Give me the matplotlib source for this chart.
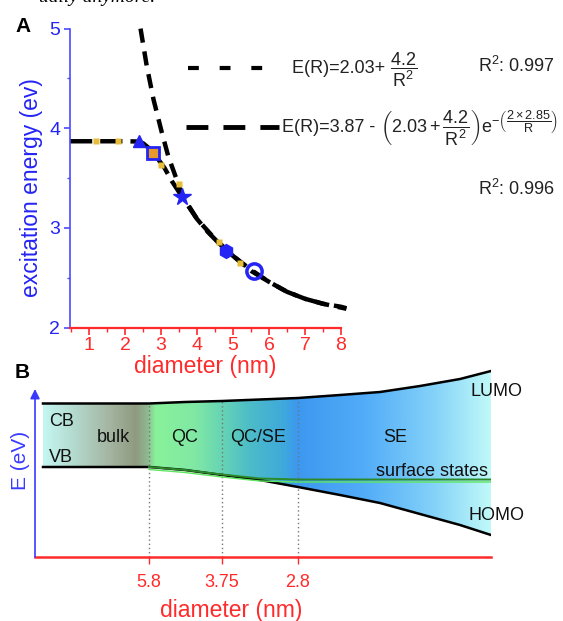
import numpy as np
import matplotlib.pyplot as plt
from matplotlib.lines import Line2D
from matplotlib.colors import LinearSegmentedColormap
from matplotlib.ticker import MultipleLocator

plt.rcParams['font.family'] = ['Liberation Sans', 'DejaVu Sans']
plt.rcParams['mathtext.fontset'] = 'custom'
plt.rcParams['mathtext.rm'] = 'Liberation Sans'
plt.rcParams['mathtext.it'] = 'Liberation Sans:italic'
plt.rcParams['mathtext.bf'] = 'Liberation Sans:bold'
plt.rcParams['mathtext.default'] = 'regular'

W, H = 563, 621

# ---- panel A: excitation energy vs diameter ----
fit1_d = [2.43, 2.6, 2.79, 3.02, 3.2, 3.43, 3.6, 4.0, 4.5, 5.0, 5.5, 6.0, 6.5, 7.0, 7.5, 8.15]
fit1_e = [5.0, 4.63, 4.29, 3.96, 3.72, 3.49, 3.32, 3.09, 2.89, 2.72, 2.58, 2.46, 2.36, 2.29, 2.24, 2.19]
fit2_d = [0.47, 1.0, 1.5, 2.0, 2.3, 2.5, 2.7, 2.9, 3.1, 3.3, 3.5, 3.7, 4.0, 4.3, 4.6,
          5.0, 5.5, 6.0, 6.5, 7.0, 7.5, 8.0, 8.15]
fit2_e = [3.87, 3.87, 3.87, 3.87, 3.868, 3.85, 3.79, 3.70, 3.60, 3.47, 3.36, 3.25, 3.09, 2.96, 2.85,
          2.72, 2.57, 2.46, 2.36, 2.29, 2.24, 2.21, 2.195]
dots_d = [1.19, 1.79, 3.0, 3.5, 4.61, 5.19]
dots_e = [3.87, 3.87, 3.63, 3.44, 2.855, 2.65]
ref_d = [2.4, 2.79, 3.58, 4.8, 5.58]
ref_e = [3.87, 3.755, 3.31, 2.765, 2.57]
r2_values = ['0.997', '0.996']

# ---- panel B: schematic band diagram ----
band_x = [8, 60, 114, 150, 187, 225, 263, 305, 345, 385, 425, 456]
lumo = [153.5, 153.5, 153.5, 155, 156, 157.5, 159, 162, 165, 171, 178, 186]
homo = [90, 90, 90, 87, 82, 77, 70, 62, 54, 43, 32, 22]
surf_x = [114, 150, 187, 225, 263, 456]
surf_y = [90, 87, 82.5, 78.5, 77.5, 77.5]
bound_x = [114, 187, 263]
bound_labels = ['5.8', '3.75', '2.8']

blue = '#2424f4'
axblue = '#4a4aff'
red = '#ff2a2a'


def px(x, y):
    return x / W, 1 - y / H


fig = plt.figure(figsize=(W / 100, H / 100), dpi=100)
renderer = fig.canvas.get_renderer()


def text_row(x, y, pieces, **kw):
    # put text pieces one after another on a common baseline
    for s in pieces:
        t = fig.text(*px(x, y), s, ha='left', va='baseline', **kw)
        x = t.get_window_extent(renderer).x1


# ================= panel A =================
axA = fig.add_axes([70 / W, 1 - 327.7 / H, 271 / W, 299.1 / H])
axA.plot(fit2_d, fit2_e, color='black', lw=3.2, dashes=(5, 1.8), clip_on=False, zorder=2)
axA.plot(fit1_d, fit1_e, color='black', lw=3.2, dashes=(3.2, 2.0), clip_on=False, zorder=2)
axA.plot(dots_d, dots_e, 's', color='#e6bd3a', ms=5, mec='none', zorder=3)

ref_styles = [
    dict(marker='^', ms=9, color=blue),
    dict(marker='s', ms=9, mfc='#e79a2a', mec=blue, mew=2),
    dict(marker='*', ms=13, color=blue),
    dict(marker='h', ms=10, color=blue),
    dict(marker='o', ms=11, mfc='none', mec=blue, mew=2.5),
]
for d, e, st in zip(ref_d, ref_e, ref_styles):
    axA.plot([d], [e], ls='none', zorder=4, **st)

axA.set_xlim(0.47, 8.0)
axA.set_ylim(2, 5)
axA.set_xticks(range(1, 9))
axA.set_yticks([2, 3, 4, 5])
axA.xaxis.set_minor_locator(MultipleLocator(0.5))
axA.yaxis.set_minor_locator(MultipleLocator(0.5))
for s in ['top', 'right']:
    axA.spines[s].set_visible(False)
axA.spines['left'].set_color(axblue)
axA.spines['left'].set_linewidth(1.2)
axA.spines['bottom'].set_color(red)
axA.spines['bottom'].set_linewidth(1.6)
axA.tick_params(axis='x', which='major', colors=red, length=5, width=1.2, pad=1.5, labelsize=14)
axA.tick_params(axis='x', which='minor', colors=red, length=3, width=1)
axA.tick_params(axis='y', which='major', colors=axblue, length=4, width=1.2, pad=3, labelsize=14)
axA.tick_params(axis='y', which='minor', colors=axblue, length=2.5, width=1)
for t in axA.get_yticklabels():
    t.set_color(blue)
axA.set_xlabel('diameter (nm)', color=red, fontsize=16.5)
axA.xaxis.set_label_coords(0.5, -0.092)
axA.set_ylabel('excitation energy (ev)', color=blue, fontsize=16.5)
axA.yaxis.set_label_coords(-0.1, 0.467)

# legend samples and fit equations
fig.add_artist(Line2D([px(188, 0)[0], px(265, 0)[0]], [px(0, 68)[1]] * 2,
                      color='black', lw=3, dashes=(2.6, 5.0)))
fig.add_artist(Line2D([px(186, 0)[0], px(279, 0)[0]], [px(0, 127)[1]] * 2,
                      color='black', lw=3.5, dashes=(4.5, 3.1)))
eqkw = dict(fontsize=13, color='#222222')
text_row(292, 73, ['E(R)=2.03+ ', r'$\dfrac{4.2}{R^2}$'], **eqkw)
text_row(282, 132, ['E(R)=3.87 - ',
                    r'$\left(2.03 + \dfrac{4.2}{R^2}\right)e^{-\left(\dfrac{2\times2.85}{R}\right)}$'],
         **eqkw)
fig.text(*px(478, 72), r'R$^2$: ' + r2_values[0], ha='left', va='baseline', **eqkw)
fig.text(*px(478, 195), r'R$^2$: ' + r2_values[1], ha='left', va='baseline', **eqkw)

fig.text(*px(15, 32), 'A', fontsize=15, fontweight='bold', ha='left', va='baseline')
fig.text(*px(15, 378), 'B', fontsize=15, fontweight='bold', ha='left', va='baseline')
fig.text(*px(155, 2), 'ually anymore.', fontsize=14, family='Liberation Serif',
         style='italic', ha='right', va='baseline')

# ================= panel B =================
axB = fig.add_axes([35 / W, 1 - 557 / H, 456 / W, 197 / H])
axB.patch.set_visible(False)
stops = [(8, '#c4f6f0'), (40, '#b2d8cc'), (75, '#a4b4a0'), (100, '#8f9a80'),
         (112, '#8fb890'), (120, '#88f29a'), (160, '#80e8a4'), (187, '#66d4b4'),
         (215, '#4cbcc8'), (250, '#3fa8dc'), (262, '#3c98f0'), (330, '#52acf8'),
         (400, '#84d2f8'), (456, '#bff9f8')]
cmap = LinearSegmentedColormap.from_list(
    'band', [((p - 8) / 448, c) for p, c in stops])
grad = np.linspace(0, 1, 900)[None, :]
im = axB.imshow(grad, extent=(8, 456, 0, 197), aspect='auto', cmap=cmap,
                vmin=0, vmax=1, zorder=1, interpolation='bilinear')
poly = axB.fill_between(band_x, homo, lumo, facecolor='none', edgecolor='none')
im.set_clip_path(poly.get_paths()[0], transform=axB.transData)

for bx in bound_x:
    axB.plot([bx, bx], [0, np.interp(bx, band_x, lumo)], color='#777777',
             lw=1, ls=(0, (1, 2)), zorder=2)
axB.plot(band_x, lumo, color='black', lw=1.8, zorder=3)
axB.plot(band_x, homo, color='black', lw=1.8, zorder=3)
axB.plot(surf_x, surf_y, color='#2a8a2a', lw=1.4, zorder=4)
axB.plot(surf_x, [v - 2.5 for v in surf_y], color='#5ee65e', lw=1.0, zorder=4)

axB.annotate('', xy=(0, 168), xytext=(0, 0), annotation_clip=False,
             arrowprops=dict(arrowstyle='-|>', color='#3a3aff', lw=1.2,
                             mutation_scale=14, shrinkA=0, shrinkB=0))

txt = dict(fontsize=13, color='#111111', va='center')
axB.text(14, 135, 'CB', **txt)
axB.text(14, 99, 'VB', **txt)
for name, cx in zip(['bulk', 'QC', 'QC/SE', 'SE'], [78, 150, 223, 360]):
    axB.text(cx, 120, name, ha='center', **txt)
axB.text(453, 85, 'surface states', ha='right', **txt)
axB.text(435, 165, 'LUMO', ha='left', **txt)
axB.text(433, 41, 'HOMO', ha='left', **txt)

axB.set_xlim(0, 456)
axB.set_ylim(0, 197)
for s in ['top', 'right', 'left']:
    axB.spines[s].set_visible(False)
axB.spines['bottom'].set_color(red)
axB.spines['bottom'].set_linewidth(1.8)
axB.set_yticks([])
axB.set_xticks(bound_x)
axB.set_xticklabels(bound_labels)
axB.tick_params(axis='x', colors=red, length=5, width=1, pad=7, labelsize=13)
axB.set_xlabel('diameter (nm)', color=red, fontsize=16.5)
axB.xaxis.set_label_coords(0.43, -0.215)
axB.set_ylabel('E (eV)', color='#3a3aff', fontsize=15)
axB.yaxis.set_label_coords(-0.01, 0.49)

fig.savefig('out.png', dpi=100)
